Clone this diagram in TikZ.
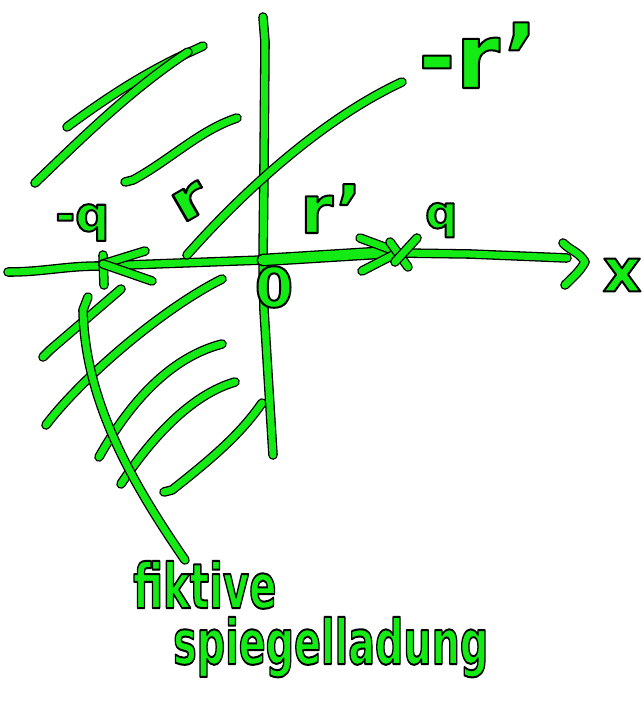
\documentclass[tikz,border=0pt]{standalone}
\usepackage{fontspec}
\setmainfont{DejaVu Sans}
\definecolor{pen}{RGB}{20,235,20}
\newcommand{\otxt}[1]{\special{pdf:code 0 G 2 Tr 2 w 1 j}#1\special{pdf:code 0 Tr}}
\tikzset{
  stroke/.style={draw=black, line width=1.3pt, double=pen, double distance=7pt, line cap=round, line join=round},
  lab/.style={inner sep=0pt, font=\bfseries, text=pen}
}
\begin{document}
\begin{tikzpicture}[x=1pt,y=-1pt]
\useasboundingbox (0,0) rectangle (644,717);
% key points
\coordinate (O) at (263,260);
\coordinate (axL) at (8,272);
\coordinate (axR) at (567,258);
\coordinate (yT) at (263,17);
\coordinate (yB) at (273,455);
\coordinate (q) at (400,253);
\coordinate (mq) at (103,264);
% hatching upper left
\draw[stroke] (67,127) .. controls (110,95) and (150,70) .. (190,52) -- (203,46);
\draw[stroke] (188,52) .. controls (130,90) and (80,140) .. (35,183);
\draw[stroke] (125,182) -- (133,180) .. controls (170,160) and (200,130) .. (237,118);
% hatching lower left
\draw[stroke] (43,357) -- (50,350) -- (121,289);
\draw[stroke] (46,425) .. controls (80,380) and (160,310) .. (222,279);
\draw[stroke] (99,457) .. controls (120,420) and (160,360) .. (222,344);
\draw[stroke] (121,484) .. controls (150,440) and (190,395) .. (235,382);
\draw[stroke] (164,492) -- (172,490) .. controls (210,460) and (240,435) .. (262,403);
\draw[stroke] (88,297) -- (83,310) .. controls (85,400) and (130,480) .. (185,560);
% axes
\draw[stroke] (yT) -- (265,42) -- (264,170) -- (O) -- (264,310) -- (yB);
\draw[stroke] (axL) to[out=0,in=180] (100,266) -- (O) -- (q) -- (470,254) -- (axR);
\draw[stroke] (563,243) to[out=-45,in=120] (585,262) to[out=-120,in=45] (565,285);
% diagonal line
\draw[stroke] (187,255) .. controls (240,195) and (320,120) .. (402,82);
% r' arrow
\draw[stroke, double distance=10pt] (O) -- (392,252);
\draw[stroke] (360,238) -- (395,251);
\draw[stroke] (362,271) -- (393,255);
% charge q cross
\draw[stroke] (390,242) -- (408,267);
\draw[stroke] (417,238) -- (395,262);
% -q arrow
\draw[stroke] (103,255) -- (104,285);
\draw[stroke] (mq) -- (145,251);
\draw[stroke] (mq) -- (152,281);
% labels
\node[lab, anchor=base west] (lmr) at (418,88) {\fontsize{90}{90}\selectfont\otxt{-r'}};
\node[lab, anchor=base west] (lrp) at (300,233) {\fontsize{67}{67}\selectfont\otxt{r'}};
\node[lab, rotate=30, xscale=1.3] (lr) at (190,202) {\fontsize{55}{55}\selectfont\otxt{r}};
\node[lab, anchor=base west] (lmq) at (55,231) {\fontsize{48}{48}\selectfont\otxt{-q}};
\node[lab, anchor=base west] (lq) at (425,228) {\fontsize{45}{45}\selectfont\otxt{q}};
\node[lab] (l0) at (274,287) {\fontsize{55}{55}\selectfont\otxt{0}};
\node[lab] (lx) at (622,275) {\fontsize{60}{60}\selectfont\otxt{x}};
\node[lab, anchor=base west, xscale=0.65] (lf) at (133,608) {\fontsize{62}{62}\selectfont\otxt{fiktive}};
\node[lab, anchor=base west, xscale=0.64] (ls) at (173,664) {\fontsize{62}{62}\selectfont\otxt{spiegelladung}};
\end{tikzpicture}
\end{document}
